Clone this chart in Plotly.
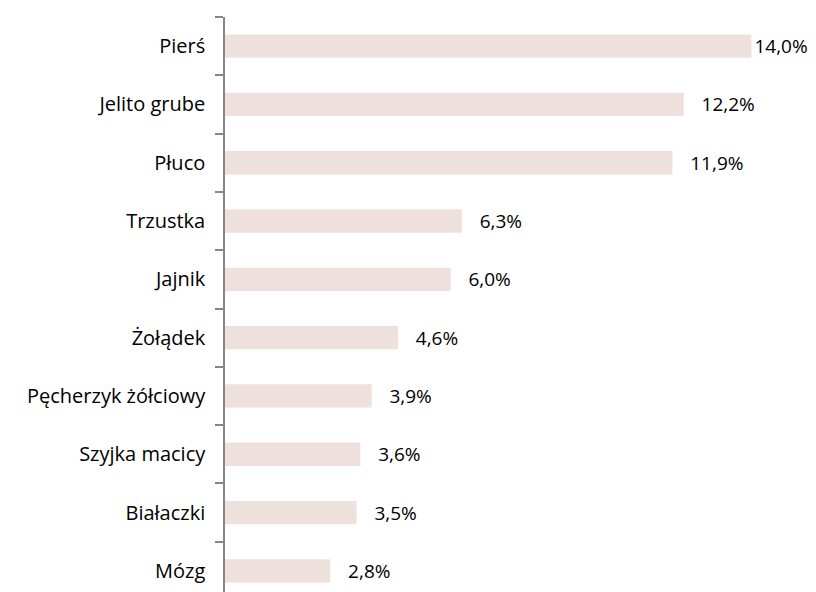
import plotly.graph_objects as go

categories = ["Pierś", "Jelito grube", "Płuco", "Trzustka", "Jajnik", "Żołądek",
              "Pęcherzyk żółciowy", "Szyjka macicy", "Białaczki", "Mózg"]
values = [14.0, 12.2, 11.9, 6.3, 6.0, 4.6, 3.9, 3.6, 3.5, 2.8]

# etykieta najdluzszego slupka przylega do konca slupka, pozostale maja odstep
pad = "\u00a0\u00a0\u00a0"
labels = [("" if v == max(values) else pad) + "%{x:.1f}%" for v in values]

fig = go.Figure(go.Bar(
    x=values, y=categories, orientation="h",
    marker=dict(color="#EEE0DC", line=dict(width=0)),
    width=0.4,
    texttemplate=labels, textposition="outside",
    textfont=dict(size=19, color="#000000"),
    constraintext="none",
    cliponaxis=False,
))

fig.update_layout(
    width=816, height=592,
    margin=dict(l=217, r=35, t=9, b=0),
    plot_bgcolor="white", paper_bgcolor="white",
    separators=",.",
    font=dict(family="Open Sans, Liberation Sans, sans-serif", size=20, color="#000000"),
    showlegend=False,
    xaxis=dict(range=[0, 15], visible=False),
    yaxis=dict(
        autorange="reversed", showline=True, linecolor="#868686", linewidth=1.5,
        ticks="outside", tickson="boundaries", ticklen=8, tickcolor="#868686",
        tickwidth=1.5, ticklabelstandoff=14, showgrid=False,
    ),
)

fig.write_html("out.html")
